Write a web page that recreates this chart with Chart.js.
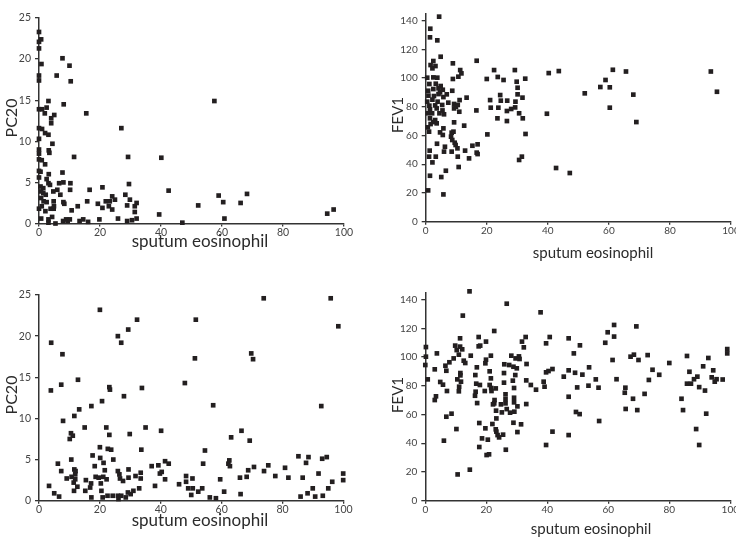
<!DOCTYPE html>
<html>
<head>
<meta charset="utf-8">
<script src="https://cdn.jsdelivr.net/npm/chart.js@4.4.1/dist/chart.umd.min.js"></script>
<style>
  html, body { margin: 0; padding: 0; background: #fff; overflow: hidden; }
  body { width: 736px; height: 542px; position: relative; }
  canvas { position: absolute; }
</style>
</head>
<body>
<canvas id="tl" width="368" height="271" style="left:0;top:0"></canvas>
<canvas id="tr" width="380" height="271" style="left:368px;top:0"></canvas>
<canvas id="bl" width="368" height="271" style="left:0;top:271px"></canvas>
<canvas id="br" width="380" height="271" style="left:368px;top:271px"></canvas>
<script>
// top left: PC20 vs sputum eosinophil
const tlEos = [
  0, 0, 0.7, 0, 0.8, 0, 0, 7.7, 10, 5.8,
  10.4, 8.1, 3.1, 0, 1, 1.9, 2.5, 5, 4, 4,
  15.5, 0, 1, 2, 3.1, 4.4, 0, 0, 0, 3.2,
  3.4, 0, 0.9, 2, 11.5, 27, 29.2, 0, 0.5, 3.2,
  7.7, 0, 2.5, 0.5, 1.4, 3.1, 3.6, 6.6, 8, 10.3,
  0.7, 1.4, 2.2, 4.7, 6, 7, 10.2, 16.6, 20.8, 29.5,
  0.7, 1.5, 2.5, 4.8, 8, 8.3, 15.8, 19.3, 20.8, 21.9,
  23.2, 24, 24.9, 22.9, 24, 28.3, 28.9, 0, 0.9, 2.1,
  3.8, 4.8, 4.9, 10.7, 12.7, 0.7, 3.1, 4.3, 5.4, 3.1,
  7.9, 8.9, 9.4, 10.1, 13.3, 14.5, 16.1, 19.8, 25.9, 28.9,
  40.1, 57.5, 42.5, 29.8, 32, 31.4, 31.4, 32, 30.5, 39.4,
  47, 52.2, 58.9, 60.4, 60.8, 66.1, 68.2, 94.5, 96.6
];
const tlPc20 = [
  23.3, 22.1, 22.4, 21.3, 19.4, 18, 17.4, 20.1, 19.2, 18,
  17.3, 14.5, 14.9, 13.9, 13.9, 13.4, 14.1, 13.2, 12.8, 12.2,
  13.4, 11.6, 11.5, 11, 10.8, 9.7, 10.3, 9, 8.5, 8.9,
  8.6, 7.8, 7.7, 7.2, 8.1, 11.6, 8.1, 6.4, 6.3, 6,
  6.2, 5.6, 5.4, 4.5, 4.3, 4.9, 4.7, 4.9, 5, 4.9,
  3.9, 3.7, 3.5, 3.9, 4.1, 3.5, 4.1, 4.1, 4.4, 4.8,
  3.1, 2.7, 2.6, 2.7, 2.6, 2.4, 2.7, 2.4, 1.9, 2.7,
  2.7, 3.3, 2.9, 2.1, 1.7, 3.5, 2.2, 1.8, 2.1, 1.5,
  1.8, 1.8, 2.1, 1.6, 2.1, 0.6, 0.5, 0.8, 0, 0.1,
  0.3, 0.5, 0.3, 0.5, 0.3, 0.5, 0.2, 0.5, 0.6, 0.3,
  8, 14.9, 4, 2.9, 2.5, 2.1, 1.4, 0.6, 0.4, 1.1,
  0.1, 2.2, 3.4, 2.6, 0.6, 2.5, 3.6, 1.2, 1.7
];

// top right: FEV1 vs sputum eosinophil
const trEos = [
  4.4, 1.5, 1.4, 3.8, 4.9, 16.7, 2.5, 1.6, 3.2, 8.9,
  2.2, 11.3, 11.7, 10.7, 0.5, 2.5, 3.8, 8.9, 1.2, 3.3,
  4.9, 2.5, 4.2, 5.6, 0.8, 4.7, 4.2, 8.7, 6.9, 0.9,
  2.7, 5.8, 2.2, 0.5, 3.9, 13.4, 11.1, 5.4, 1.2, 3.1,
  7.4, 9.3, 10.5, 1.4, 3.6, 5.5, 9.3, 9.9, 11, 16.6,
  0.7, 2.1, 4.5, 6, 1.4, 3.1, 2.5, 3.6, 1.6, 0.7,
  9.3, 12.6, 1.1, 4.7, 5.8, 5.6, 8.5, 9.1, 8.3, 8.7,
  9.5, 9.8, 3.7, 6.3, 10.4, 12.9, 15.3, 17, 1.3, 6,
  8.5, 16.7, 17, 10.5, 14.2, 1.1, 3.3, 2.2, 10.8, 6.6,
  5.1, 1.4, 0.8, 5.8, 20, 22.4, 21.1, 21.3, 20.2, 23.6,
  25.5, 24.4, 24.6, 23.8, 23.5, 26.7, 26.6, 26.6, 28, 29.2,
  29.8, 30.1, 30.1, 29.4, 29.3, 30.6, 30.6, 32.6, 31.7, 31.8,
  32.7, 31.5, 40.3, 43.6, 39.7, 42.7, 47.2, 52.1, 57.2, 58.9,
  60.3, 60.3, 61.3, 65.6, 68, 69, 93.4, 95.4
];
const trFev1 = [
  142.8, 134.4, 128.4, 126.3, 114.9, 112.1, 111.9, 109.1, 108.4, 110.3,
  106.8, 105.6, 103.3, 101, 100.3, 100.5, 100.3, 99.4, 95.9, 96.1,
  94.5, 92.4, 92.9, 91.9, 91.2, 90.1, 88.9, 91.2, 88.7, 87.8,
  87.5, 86.8, 85, 83.6, 83.6, 86.4, 84.7, 81.3, 80.8, 81,
  82.9, 82, 81.3, 78.2, 78.9, 77.5, 78.9, 80.1, 76.6, 77.5,
  75.5, 75.5, 75.5, 74.8, 72, 70.8, 69.4, 68.5, 68, 65.7,
  69.2, 66.9, 62.7, 62.2, 65, 60.4, 62, 62.7, 59.2, 56.9,
  55, 53.4, 54.3, 52.2, 51.1, 49.5, 52.9, 53.9, 49.5, 48.8,
  48.8, 48.1, 47.1, 45.3, 44.1, 45.3, 45.3, 41.3, 38.1, 35.5,
  31.1, 32, 21.8, 19, 99.4, 105.6, 84.7, 79.4, 60.8, 100.8,
  98.7, 88.2, 84.3, 79.4, 72, 84.3, 77.1, 70.1, 78.5, 105.6,
  97.5, 93.3, 88.7, 83.6, 79.6, 75.5, 43, 99.6, 86.4, 72,
  61.1, 45.3, 103.5, 104.9, 75.2, 37.4, 33.9, 89.4, 93.8, 98.7,
  93.6, 79.4, 105.8, 104.6, 88.5, 69.4, 104.6, 90.5
];

// bottom left: PC20 vs sputum eosinophil
const blEos = [
  20, 32.2, 29.3, 25.9, 27, 4, 7.7, 3.9, 7.3, 12.8,
  23.1, 23.3, 33.8, 27.9, 20.7, 17.2, 13.2, 11.6, 7.9, 15,
  22.1, 35, 40.1, 10.5, 11.1, 10.1, 23.1, 29.8, 20, 22.6,
  23.7, 33.6, 17.6, 20.1, 10.6, 24.4, 6.2, 21.2, 18.3, 11.6,
  12, 21.6, 7.3, 29.4, 25.9, 37, 39.2, 41.4, 42.6, 40.3,
  39.7, 33.4, 31.7, 9.1, 10.7, 11.9, 11.9, 15.4, 17.1, 18.6,
  19.6, 20.3, 21.1, 22.2, 26.4, 26.6, 27.6, 29.4, 33.4, 41.4,
  3.3, 11.4, 12.6, 11.5, 15.2, 16.8, 20.5, 5, 6.6, 17.2,
  20.9, 22.5, 24.2, 25.9, 26.1, 27, 28.5, 29.2, 30.1, 31,
  32.9, 38.1, 46, 47.9, 48.3, 48.3, 49,
  73.8, 95.8, 98.3, 51.5, 51.2, 69.7, 70.3, 57.2, 92.7, 66.5,
  63.1, 69.2, 54.5, 53.9, 62.2, 62.5, 62.7, 70.6, 73.9, 75.3,
  68.7, 66, 68.2, 77.6, 80.8, 81.9, 85.2, 88.5, 87.7, 86.6,
  93, 94.5, 91.8, 99.9, 99.9, 96.3, 95, 89.9, 88.2, 85.9,
  90.7, 93.2, 59.5, 60.8, 66.2, 56.1, 58.1, 52.3, 53.6, 50.5,
  50, 50.4
];
const blPc20 = [
  23.2, 22, 20.8, 20, 19.2, 19.2, 17.8, 13.4, 14.1, 14.7,
  13.8, 13.5, 13.7, 12.7, 12.1, 11.5, 11.1, 10.3, 9.7, 8.9,
  8.9, 8.9, 8.5, 8.2, 7.9, 7.5, 8, 8.1, 6.5, 6.3,
  6.2, 6.2, 5.5, 5.2, 5, 5, 4.5, 4.6, 4.2, 3.8,
  3.6, 3.7, 3.6, 3.8, 3.6, 4.2, 4.3, 4.8, 4.5, 3.5,
  3.3, 3.4, 3, 2.7, 2.9, 3.2, 2.6, 2.5, 2.1, 2.9,
  2.8, 2.1, 2.9, 2.6, 3.2, 2.7, 2.4, 2.8, 2.7, 2.6,
  1.8, 2.2, 1.7, 1.2, 1.2, 1.6, 1.2, 0.9, 0.5, 0.4,
  0.4, 0.6, 0.6, 0.6, 0.2, 0.6, 0.4, 1, 0.8, 1.2,
  1.5, 1.8, 2, 14.3, 3, 2.3, 1.5,
  24.6, 24.6, 21.2, 22, 17.3, 17.9, 17.2, 11.6, 11.5, 8.5,
  7.7, 7.3, 6.1, 4.5, 4.5, 4.9, 4.2, 4.1, 3.6, 4.3,
  3.7, 2.8, 2.9, 3, 4, 2.8, 5.4, 5.3, 4.6, 2.8,
  5.1, 5.3, 3.3, 3.3, 2.5, 2.3, 1.5, 1.5, 0.9, 0.5,
  0.5, 0.6, 2.6, 1.1, 0.8, 0.4, 0.3, 1.1, 1.5, 1.5,
  0.7, 2.7
];

// bottom right: FEV1 vs sputum eosinophil
const brEos = [
  14.5, 26.7, 37.8, 12.3, 22.6, 11.4, 17.5, 32.9, 40.8, 47,
  19.9, 18, 17.5, 31.7, 32.3, 39.6, 9.8, 11.4, 12.1, 10.3,
  0.2, 3.8, 11, 14.9, 21.5, 28.2, 29.6, 30.7, 30.9, 0.2,
  0, 9.3, 7.9, 6.6, 12.6, 13.1, 19.9, 19.7, 25.9, 27.5,
  28.9, 30, 33.2, 3.1, 6.9, 11.5, 11.5, 16.9, 21.1, 25.8,
  29.5, 39.6, 40.4, 41.7, 45.4, 47, 0.8, 10.5, 11.7, 16.4,
  21.5, 25.8, 28.7, 33.1, 38.8, 4.9, 5.8, 16.7, 17.9, 21.1,
  34.6, 39.1, 11.1, 21.6, 23.1, 11, 7.1, 16.5, 19.5, 21.7,
  36.3, 29.1, 16.3, 26.3, 3.5, 3.1, 26.3, 29.1, 47, 17,
  22.7, 22.6, 22.2, 24.8, 26.3, 29.1, 33.1, 23.2, 25.1, 26.7,
  27.8, 29.2, 30.2, 8.6, 6.9, 23.3, 17.7, 22, 28.9, 31.4,
  19.7, 10.2, 23.1, 23.3, 30.2, 41.7, 47, 18.6, 20.5, 23.7,
  24.2, 25.5, 6.1, 17.7, 39.6, 26.4, 20.1, 20.9, 14.6, 10.6,
  50.7, 48.7, 61.9, 59.8, 61.9, 59, 69.2, 61.4, 67.3, 68.4,
  69.9, 72.9, 80, 85.8, 92.8, 99, 99, 49.1, 51.5, 53.7,
  55.9, 53.5, 49.8, 56.8, 49.4, 50.6, 57, 62.7, 65.6, 65.4,
  65.7, 68.1, 69.5, 71.9, 73.3, 74.5, 76.7, 84, 84.5, 86.6,
  85.8, 87.1, 88.1, 89.2, 89.8, 91.1, 91.7, 94.4, 93.9, 94.9,
  95.5, 97.5, 92.1, 88.8, 89.8
];
const brFev1 = [
  145.8, 137.2, 131.2, 128.9, 118.2, 113.1, 114, 114, 114, 113.1,
  110.8, 108, 107.5, 110.8, 106.8, 109.6, 108, 107.3, 105.4, 104.9,
  107, 102.6, 101.7, 101, 101, 101, 99.1, 100.5, 98.7, 100.3,
  94.5, 99.1, 96.4, 94, 97.5, 95.9, 98.2, 95.7, 95, 94.5,
  93.3, 92.2, 95.2, 91.5, 90.5, 88.9, 87.3, 92.9, 90.1, 88.9,
  87.5, 89.4, 90.3, 91.7, 86.4, 90.8, 84.5, 84.5, 82.9, 87.5,
  85.2, 82.2, 83.6, 83.8, 82.9, 82.7, 80.8, 81.5, 80.6, 80.6,
  80.6, 79.4, 79.4, 78.5, 78.2, 76.2, 76.4, 75.9, 76.4, 76.4,
  77.3, 78.5, 73.1, 74.1, 72.7, 70.1, 70.8, 71.7, 72.4, 68,
  70.1, 67.8, 67.1, 67.1, 67.8, 68.5, 67.3, 62.7, 61.5, 63.8,
  61.3, 62, 65.7, 60.6, 58.5, 57.3, 54.1, 53.4, 54.3, 53.2,
  50.4, 49.9, 49.7, 48.1, 47.8, 48.1, 45.7, 43.4, 42.5, 45.7,
  44.1, 46, 41.8, 37.4, 38.8, 35.5, 31.8, 32.3, 21.6, 18.3,
  108.2, 102.6, 122.4, 117.3, 114.3, 110, 121.4, 98, 100.3, 101.7,
  98, 101.4, 95.9, 100.8, 99.4, 105.6, 102.6, 89.1, 87.8, 92.9,
  84.5, 80.1, 78.9, 78.7, 61.8, 60.3, 55.5, 84.6, 78.7, 75.2,
  63.9, 71, 63.1, 74.4, 84.1, 91.2, 87.7, 71, 63.1, 89.8,
  81.5, 81.5, 84.6, 86.4, 79.1, 93.6, 76.7, 90.8, 85.9, 82.9,
  84.6, 84.4, 60.6, 49.9, 38.8
];

const xTickValues = [0, 20, 40, 60, 80, 100];
const pc20Ticks = [0, 5, 10, 15, 20, 25];
const fev1Ticks = [0, 20, 40, 60, 80, 100, 120, 140];

// draws the axis names where the original figure had them
const axisTitles = {
  id: 'axisTitles',
  afterDraw(chart, args, opts) {
    const ctx = chart.ctx;
    ctx.save();
    ctx.fillStyle = '#2b2b2b';
    ctx.textAlign = 'center';
    ctx.textBaseline = 'middle';
    ctx.font = opts.xSize + 'px Lato';
    ctx.fillText(opts.xText, opts.xPos[0], opts.xPos[1]);
    ctx.translate(opts.yPos[0], opts.yPos[1]);
    ctx.rotate(-Math.PI / 2);
    ctx.font = opts.ySize + 'px Lato';
    ctx.fillText(opts.yText, 0, 0);
    ctx.restore();
  }
};

// only the tick values the figure shows
function setTicks(values) {
  return scale => { scale.ticks = values.map(v => ({ value: v })); };
}

function makePanel(id, xs, ys, o) {
  const ctx = document.getElementById(id).getContext('2d');
  const axisColor = '#333';
  return new Chart(ctx, {
    type: 'scatter',
    data: {
      datasets: [{
        data: xs.map((x, i) => ({ x: x, y: ys[i] })),
        pointStyle: 'rect',
        pointRadius: 3.3,
        backgroundColor: '#231f20',
        borderWidth: 0,
        clip: false
      }]
    },
    options: {
      responsive: false,
      animation: false,
      layout: { padding: o.padding },
      plugins: {
        legend: { display: false },
        tooltip: { enabled: false },
        axisTitles: o.titles
      },
      scales: {
        x: {
          type: 'linear',
          min: 0,
          max: 100,
          afterBuildTicks: setTicks(xTickValues),
          afterFit: s => { s.height = 30; },
          ticks: { color: '#444', padding: 0, font: { family: 'Lato', size: o.tickSize } },
          grid: { display: true, drawOnChartArea: false, tickLength: 3, color: axisColor, lineWidth: 1.3 },
          border: { display: true, color: axisColor, width: 1.5 }
        },
        y: {
          type: 'linear',
          min: 0,
          max: o.yMax,
          afterBuildTicks: setTicks(o.yTicks),
          afterFit: s => { s.width = o.yWidth; },
          ticks: { color: '#444', padding: o.yPad, font: { family: 'Lato', size: o.tickSize } },
          grid: { display: true, drawOnChartArea: false, tickLength: 4, color: axisColor, lineWidth: 1.3 },
          border: { display: true, color: axisColor, width: 1.5 }
        }
      }
    },
    plugins: [axisTitles]
  });
}

makePanel('tl', tlEos, tlPc20, {
  padding: { left: 0, right: 24, top: 18, bottom: 17.5 },
  yWidth: 39, yMax: 25, yTicks: pc20Ticks, yPad: 4, tickSize: 10.5,
  titles: { xText: 'sputum eosinophil', xSize: 17, xPos: [200, 242], yText: 'PC20', ySize: 16, yPos: [12, 118] }
});
makePanel('tr', trEos, trFev1, {
  padding: { left: 0, right: 17, top: 13.5, bottom: 19.3 },
  yWidth: 57.7, yMax: 145, yTicks: fev1Ticks, yPad: 4, tickSize: 10,
  titles: { xText: 'sputum eosinophil', xSize: 15, xPos: [225, 253], yText: 'FEV1', ySize: 15, yPos: [30, 115] }
});
makePanel('bl', blEos, blPc20, {
  padding: { left: 0, right: 24.5, top: 24, bottom: 11.3 },
  yWidth: 39, yMax: 25, yTicks: pc20Ticks, yPad: 4, tickSize: 10.5,
  titles: { xText: 'sputum eosinophil', xSize: 17, xPos: [200, 250], yText: 'PC20', ySize: 16, yPos: [12, 124] }
});
makePanel('br', brEos, brFev1, {
  padding: { left: 0, right: 17.7, top: 21.5, bottom: 11.3 },
  yWidth: 57.3, yMax: 145, yTicks: fev1Ticks, yPad: 4, tickSize: 10,
  titles: { xText: 'sputum eosinophil', xSize: 15, xPos: [223, 258], yText: 'FEV1', ySize: 15, yPos: [30, 124] }
});
</script>
</body>
</html>
